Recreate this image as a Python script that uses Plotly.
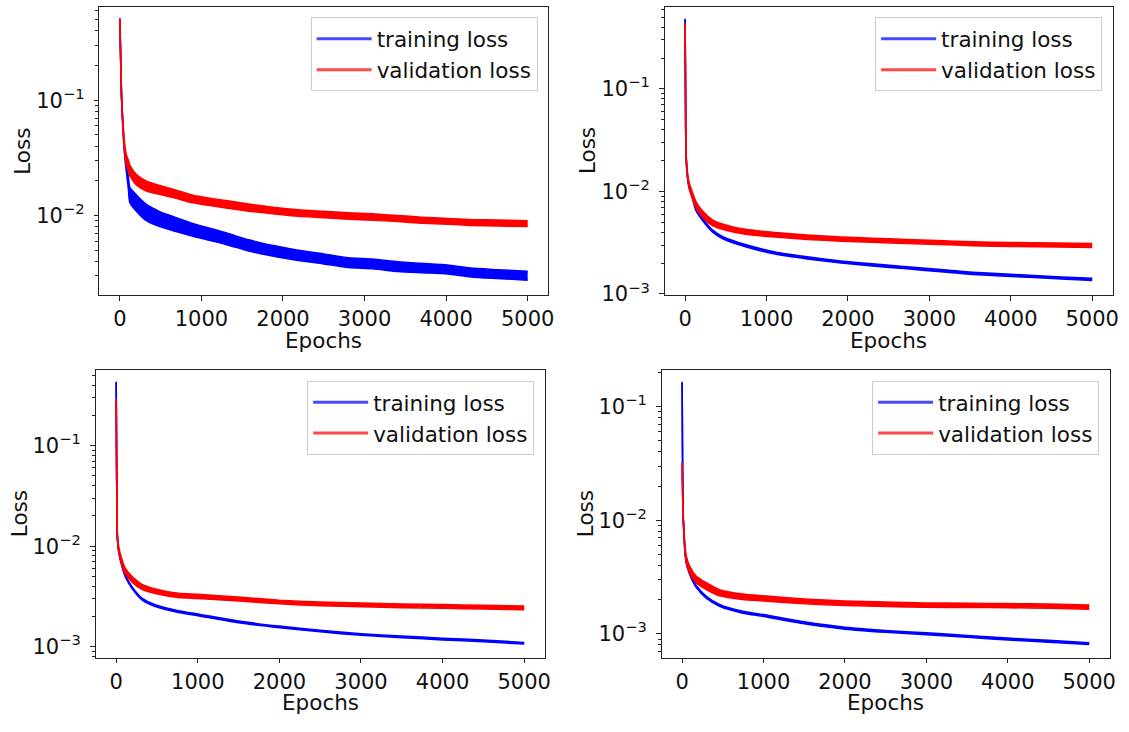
import plotly.graph_objects as go

# ---------------- data ----------------
# Panel 1 (top-left)
p1_epochs = [0, 20, 41, 61, 81, 105, 122, 203, 325, 488, 700, 894, 1300, 1579, 1900, 2189, 2500, 2799, 3100, 3409, 3700, 4018, 4300, 4628, 5000]
p1_train = [0.50, 0.11, 0.055, 0.034, 0.026, 0.019, 0.0151, 0.0128, 0.0106, 0.0093, 0.0083, 0.0075, 0.0063, 0.0055, 0.0049, 0.0045, 0.0042, 0.0039, 0.0038, 0.0036, 0.0035, 0.0034, 0.0032, 0.0031, 0.0030]
p1_train_spread = [0.01, 0.01, 0.02, 0.03, 0.04, 0.05, 0.065, 0.07, 0.07, 0.065, 0.06, 0.055, 0.05, 0.048, 0.046, 0.044, 0.043, 0.042, 0.042, 0.042, 0.04, 0.038, 0.038, 0.038, 0.038]
p1_val = [0.506, 0.112, 0.054, 0.0367, 0.030, 0.027, 0.0247, 0.0204, 0.018, 0.0167, 0.0152, 0.0139, 0.0125, 0.0117, 0.0110, 0.0105, 0.0102, 0.0099, 0.0097, 0.0094, 0.0091, 0.0089, 0.0087, 0.0086, 0.0085]
p1_val_spread = [0.01, 0.02, 0.03, 0.04, 0.045, 0.045, 0.045, 0.045, 0.042, 0.038, 0.035, 0.033, 0.032, 0.03, 0.028, 0.028, 0.027, 0.027, 0.027, 0.026, 0.026, 0.025, 0.025, 0.025, 0.025]

# Panel 2 (top-right)
p2_epochs = [0, 5, 12, 32, 53, 93, 134, 215, 336, 457, 741, 1106, 1500, 1915, 2300, 2724, 3100, 3533, 4000, 4565, 5000]
p2_train = [0.48, 0.10, 0.022, 0.0135, 0.0108, 0.0086, 0.00665, 0.00533, 0.00412, 0.00356, 0.00296, 0.00251, 0.00225, 0.00205, 0.00192, 0.0018, 0.0017, 0.00159, 0.00152, 0.00144, 0.00139]
p2_train_spread = [0.004, 0.004, 0.008, 0.01, 0.01, 0.01, 0.01, 0.01, 0.01, 0.01, 0.01, 0.01, 0.01, 0.01, 0.01, 0.01, 0.01, 0.01, 0.01, 0.01, 0.01]
p2_val = [0.43, 0.10, 0.0233, 0.0139, 0.0112, 0.0090, 0.0074, 0.0060, 0.00495, 0.00454, 0.00404, 0.00378, 0.00358, 0.00343, 0.00334, 0.00325, 0.00318, 0.00309, 0.00304, 0.00300, 0.00297]
p2_val_spread = [0.008, 0.01, 0.015, 0.022, 0.027, 0.03, 0.03, 0.03, 0.028, 0.026, 0.024, 0.022, 0.021, 0.02, 0.02, 0.02, 0.019, 0.019, 0.019, 0.019, 0.019]

# Panel 3 (bottom-left)
p3_epochs = [0, 5, 8, 15, 32, 73, 114, 195, 316, 479, 762, 1000, 1500, 2000, 2500, 3000, 3500, 4000, 4500, 5000]
p3_train = [0.43, 0.06, 0.03, 0.012, 0.0088, 0.0063, 0.0050, 0.00386, 0.00298, 0.00256, 0.00223, 0.00207, 0.00176, 0.00157, 0.00143, 0.00132, 0.00125, 0.00119, 0.00114, 0.00108]
p3_train_spread = [0.004, 0.004, 0.006, 0.008, 0.008, 0.008, 0.008, 0.008, 0.008, 0.008, 0.008, 0.008, 0.008, 0.008, 0.008, 0.008, 0.008, 0.008, 0.008, 0.008]
p3_val = [0.286, 0.08, 0.035, 0.0125, 0.0092, 0.0068, 0.0056, 0.00467, 0.00393, 0.00356, 0.00323, 0.00316, 0.00298, 0.00278, 0.00266, 0.0026, 0.00255, 0.00251, 0.00247, 0.00243]
p3_val_spread = [0.008, 0.01, 0.015, 0.02, 0.024, 0.027, 0.027, 0.027, 0.025, 0.023, 0.021, 0.02, 0.019, 0.018, 0.018, 0.018, 0.018, 0.018, 0.018, 0.018]

# Panel 4 (bottom-right)
p4_epochs = [0, 4, 12, 24, 33, 53, 93, 175, 297, 459, 744, 1000, 1500, 2000, 2500, 3000, 3500, 4000, 4500, 5000]
p4_train = [0.164, 0.05, 0.011, 0.0074, 0.0056, 0.0042, 0.0034, 0.0026, 0.0021, 0.00178, 0.00155, 0.00145, 0.00125, 0.00112, 0.00105, 0.00100, 0.00095, 0.00090, 0.00086, 0.00082]
p4_train_spread = [0.004, 0.004, 0.006, 0.008, 0.008, 0.008, 0.008, 0.008, 0.008, 0.008, 0.008, 0.008, 0.008, 0.008, 0.008, 0.008, 0.008, 0.008, 0.008, 0.008]
p4_val = [0.0318, 0.02, 0.0113, 0.0076, 0.0058, 0.00448, 0.00366, 0.0030, 0.00263, 0.0023, 0.00212, 0.00205, 0.00193, 0.00186, 0.00182, 0.00179, 0.00178, 0.00177, 0.00175, 0.00172]
p4_val_spread = [0.008, 0.012, 0.015, 0.02, 0.024, 0.028, 0.03, 0.03, 0.03, 0.027, 0.024, 0.022, 0.021, 0.02, 0.019, 0.019, 0.018, 0.018, 0.018, 0.018]

x_ticks = [0, 1000, 2000, 3000, 4000, 5000]
y_ticks = [1e-3, 1e-2, 1e-1]
y_ticktext = ["10<sup>\u22123</sup>", "10<sup>\u22122</sup>", "10<sup>\u22121</sup>"]
series_names = ["training loss", "validation loss"]

# ---------------- layout geometry ----------------
W, H = 1129, 732
FONT = "DejaVu Sans"
FS = 21.5
BLUE = "#0000ff"
RED = "#ff0000"
INK = "#111111"

panels = [
    dict(ep=p1_epochs, tr=p1_train, trs=p1_train_spread, va=p1_val, vas=p1_val_spread,
         px=(100, 551), py=(7, 299.5), yr=(-2.69, -0.19)),
    dict(ep=p2_epochs, tr=p2_train, trs=p2_train_spread, va=p2_val, vas=p2_val_spread,
         px=(668.3, 1118.5), py=(7, 299.5), yr=(-3.01, -0.20)),
    dict(ep=p3_epochs, tr=p3_train, trs=p3_train_spread, va=p3_val, vas=p3_val_spread,
         px=(96.3, 547.5), py=(376, 667.7), yr=(-3.11, -0.25)),
    dict(ep=p4_epochs, tr=p4_train, trs=p4_train_spread, va=p4_val, vas=p4_val_spread,
         px=(665.3, 1115.5), py=(376, 667.7), yr=(-3.21, -0.68)),
]

fig = go.Figure()
layout = dict(width=W, height=H, margin=dict(l=0, r=0, t=0, b=0),
              paper_bgcolor="white", plot_bgcolor="white",
              font=dict(family=FONT, size=FS, color=INK),
              showlegend=True)
annotations = []

for i, p in enumerate(panels):
    n = i + 1
    xa = "x" if n == 1 else f"x{n}"
    ya = "y" if n == 1 else f"y{n}"
    lg = "legend" if n == 1 else f"legend{n}"

    for vals, spread, color in ((p["tr"], p["trs"], BLUE), (p["va"], p["vas"], RED)):
        hi = [v * 10 ** s for v, s in zip(vals, spread)]
        lo = [v / 10 ** s for v, s in zip(vals, spread)]
        fig.add_trace(go.Scatter(x=p["ep"], y=hi, mode="lines", xaxis=xa, yaxis=ya,
                                 line=dict(color=color, width=1.6, shape="spline", smoothing=0.6),
                                 showlegend=False, hoverinfo="skip"))
        fig.add_trace(go.Scatter(x=p["ep"], y=lo, mode="lines", xaxis=xa, yaxis=ya,
                                 line=dict(color=color, width=1.6, shape="spline", smoothing=0.6),
                                 fill="tonexty", fillcolor=color, showlegend=False,
                                 hoverinfo="skip"))
    # legend entries
    for k, (name, color) in enumerate(zip(series_names, ("rgba(40,40,255,0.85)", "rgba(255,40,40,0.85)"))):
        fig.add_trace(go.Scatter(x=[None], y=[None], mode="lines", xaxis=xa, yaxis=ya,
                                 name=name, legend=lg,
                                 line=dict(color=color, width=3)))

    x0, x1 = p["px"]
    y0, y1 = p["py"]
    xd = [x0 / W, x1 / W]
    yd = [1 - y1 / H, 1 - y0 / H]
    lo_e, hi_e = int(p["yr"][0]) - 1, int(p["yr"][1]) + 1
    minor_vals = [m * 10 ** e for e in range(lo_e, hi_e + 1) for m in range(2, 10)]

    axis_common = dict(showline=True, mirror=True, linecolor="#222222", linewidth=1.4,
                       ticks="outside", ticklen=4.5, tickwidth=1.4, tickcolor="#222222",
                       showgrid=False, zeroline=False,
                       tickfont=dict(family=FONT, size=21, color=INK))
    layout[("xaxis" if n == 1 else f"xaxis{n}")] = dict(
        domain=xd, anchor=ya, range=[-250, 5250], tickmode="array", tickvals=x_ticks,
        ticktext=[str(t) for t in x_ticks], ticklabelstandoff=0, **axis_common)
    layout[("yaxis" if n == 1 else f"yaxis{n}")] = dict(
        domain=yd, anchor=xa, type="log", range=list(p["yr"]), tickmode="array",
        tickvals=y_ticks, ticktext=y_ticktext, ticklabelstandoff=5,
        minor=dict(tickmode="array", tickvals=minor_vals, ticks="outside", ticklen=2.8,
                   tickwidth=1.1, tickcolor="#222222", showgrid=False),
        **axis_common)
    layout[lg] = dict(x=(x1 - 10.5) / W, y=1 - (y0 + 10.5) / H, xanchor="right", yanchor="top",
                      bgcolor="white", bordercolor="#cccccc", borderwidth=1,
                      font=dict(family=FONT, size=FS, color=INK),
                      itemwidth=55, tracegroupgap=0, traceorder="normal")

    annotations.append(dict(text="Epochs", xref="paper", yref="paper",
                            x=(x0 + x1) / 2 / W, y=1 - (y1 + 46) / H,
                            showarrow=False, xanchor="center", yanchor="middle",
                            font=dict(family=FONT, size=FS, color=INK)))
    annotations.append(dict(text="Loss", xref="paper", yref="paper",
                            x=(x0 - 77) / W, y=1 - (y0 + y1) / 2 / H, textangle=-90,
                            showarrow=False, xanchor="center", yanchor="middle",
                            font=dict(family=FONT, size=FS, color=INK)))

layout["annotations"] = annotations
fig.update_layout(**layout)
fig.write_html("out.html")
